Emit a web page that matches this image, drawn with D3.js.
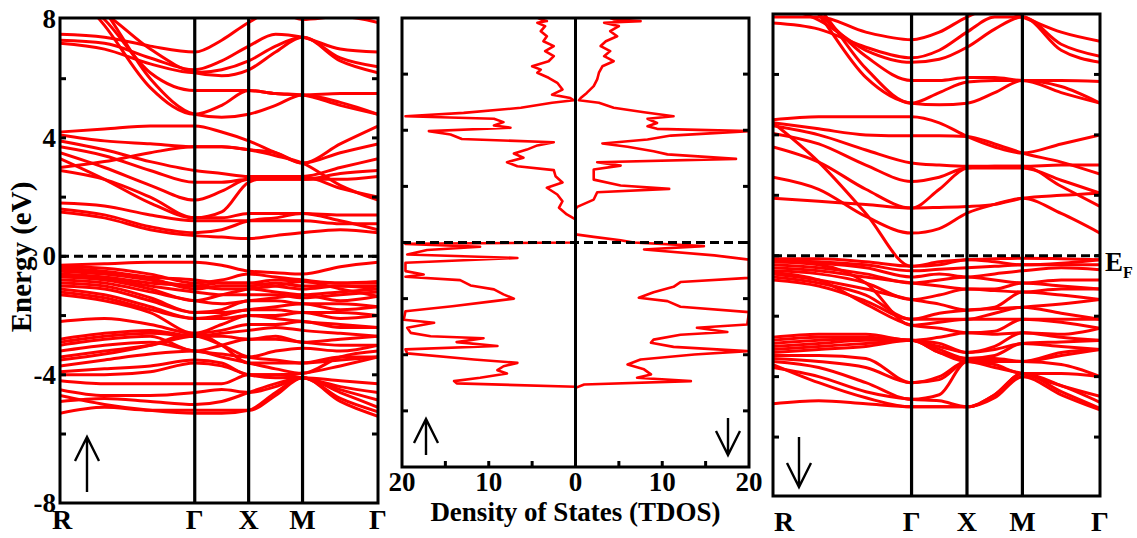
<!DOCTYPE html>
<html>
<head>
<meta charset="utf-8">
<script src="https://cdn.jsdelivr.net/npm/d3@7"></script>
<style>
  body { margin: 0; background: #fff; }
  text { font-family: "Liberation Serif", "Times New Roman", serif; font-weight: bold; fill: #000; }
</style>
</head>
<body>
<svg width="1137" height="538"></svg>
<script>
// k-path: R - Γ - X - M - Γ
const kTicks = [0, 1, 1.4, 1.8, 2.36];
const kLabels = ["R", "Γ", "X", "M", "Γ"];
// energies of each band are read at these k positions
const kSamples = [0, 0.33, 0.67, 1, 1.2, 1.4, 1.6, 1.8, 2.08, 2.36];

// spin up bands (eV)
const upBands = [
  [7.5, 7.4, 7.1, 6.9, 7.3, 7.9, 8.3, 8.0, 8.1, 7.9],
  [7.3, 7.2, 6.7, 6.3, 6.6, 7.1, 7.5, 7.4, 7.0, 6.9],
  [7.2, 7.0, 6.5, 6.2, 6.3, 6.6, 7.1, 7.4, 6.7, 6.4],
  [8.9, 8.2, 7.0, 6.2, 6.1, 6.3, 6.9, 7.4, 6.6, 6.2],
  [9.2, 8.0, 6.2, 5.6, 5.6, 5.6, 5.5, 5.45, 5.5, 5.5],
  [9.5, 7.8, 5.7, 4.8, 5.1, 5.6, 5.5, 5.45, 5.1, 4.8],
  [10.0, 8.3, 6.0, 4.8, 4.7, 4.8, 5.1, 5.45, 5.2, 4.8],
  [4.2, 4.3, 4.4, 4.4, 4.2, 3.9, 3.5, 3.15, 3.8, 4.4],
  [4.1, 3.9, 3.8, 3.7, 3.7, 3.6, 3.5, 3.15, 3.5, 3.8],
  [3.9, 3.6, 3.2, 2.9, 2.8, 2.7, 2.7, 2.7, 3.0, 3.3],
  [3.7, 3.4, 2.9, 2.5, 2.5, 2.6, 2.6, 2.6, 2.8, 2.9],
  [3.5, 3.0, 2.4, 1.9, 2.2, 2.6, 2.6, 2.6, 2.6, 2.7],
  [3.3, 2.6, 1.8, 1.3, 1.5, 2.5, 2.7, 2.7, 2.3, 2.0],
  [3.0, 3.2, 3.5, 3.7, 3.7, 3.6, 3.4, 3.15, 2.4, 1.9],
  [2.9, 2.6, 2.0, 1.3, 1.3, 1.45, 1.45, 1.45, 1.4, 1.4],
  [1.8, 1.7, 1.4, 1.2, 1.2, 1.2, 1.2, 1.2, 1.1, 1.1],
  [1.6, 1.4, 1.0, 0.8, 0.9, 1.2, 1.3, 1.45, 1.2, 0.9],
  [1.5, 1.3, 0.9, 0.7, 0.65, 0.6, 0.7, 0.8, 0.9, 0.8],
  [-0.3, -0.25, -0.2, -0.2, -0.3, -0.5, -0.55, -0.6, -0.35, -0.2],
  [-0.35, -0.4, -0.6, -0.9, -0.8, -0.6, -0.7, -0.8, -0.9, -0.9],
  [-0.4, -0.5, -0.7, -0.8, -0.9, -0.9, -0.8, -0.85, -0.9, -0.85],
  [-0.45, -0.55, -0.75, -1.1, -1.0, -1.0, -0.9, -1.0, -1.0, -1.0],
  [-0.5, -0.6, -0.8, -1.0, -0.9, -0.9, -1.0, -1.1, -1.0, -1.1],
  [-0.6, -0.7, -0.9, -1.0, -1.1, -1.1, -1.2, -1.3, -1.2, -1.1],
  [-0.65, -0.75, -1.0, -1.2, -1.3, -1.3, -1.3, -1.4, -1.3, -1.2],
  [-0.7, -0.8, -1.1, -1.5, -1.3, -1.1, -1.0, -0.85, -1.1, -1.35],
  [-0.8, -0.9, -1.2, -1.5, -1.6, -1.5, -1.4, -1.3, -1.5, -1.35],
  [-0.9, -1.0, -1.4, -1.9, -1.8, -1.5, -1.5, -1.6, -1.6, -1.7],
  [-1.0, -1.1, -1.5, -1.9, -1.9, -1.8, -1.7, -1.6, -1.8, -1.7],
  [-1.1, -1.3, -1.7, -2.1, -2.0, -1.8, -1.8, -1.9, -1.9, -2.0],
  [-1.2, -1.4, -1.8, -2.1, -2.1, -2.0, -2.0, -1.9, -2.1, -2.0],
  [-1.3, -1.5, -1.9, -2.6, -2.3, -2.0, -2.1, -2.2, -2.3, -2.4],
  [-2.2, -2.1, -2.3, -2.6, -2.5, -2.3, -2.3, -2.2, -2.4, -2.4],
  [-2.8, -2.6, -2.5, -2.7, -2.6, -2.5, -2.4, -2.5, -2.6, -2.7],
  [-2.9, -2.7, -2.6, -2.7, -2.7, -2.8, -2.7, -2.9, -2.8, -2.7],
  [-3.0, -2.8, -2.7, -3.2, -3.0, -2.8, -2.8, -2.9, -3.0, -3.0],
  [-3.2, -3.0, -2.9, -3.2, -3.3, -3.4, -3.2, -3.1, -3.2, -3.0],
  [-3.4, -3.2, -3.0, -2.7, -3.0, -3.4, -3.5, -3.6, -3.4, -3.4],
  [-3.5, -3.3, -3.0, -2.6, -3.0, -3.6, -3.6, -3.6, -3.5, -3.4],
  [-3.7, -3.5, -3.3, -3.2, -3.4, -3.6, -3.8, -3.95, -3.4, -3.2],
  [-3.9, -3.8, -3.7, -3.5, -3.6, -4.0, -4.0, -3.95, -3.7, -3.4],
  [-4.0, -4.0, -3.9, -3.6, -3.7, -4.0, -4.1, -4.1, -4.2, -4.3],
  [-4.2, -4.3, -4.3, -4.3, -4.3, -4.0, -4.0, -4.1, -4.4, -4.6],
  [-4.5, -4.7, -4.7, -4.6, -4.5, -4.6, -4.4, -4.1, -4.5, -4.85],
  [-4.9, -4.8, -4.9, -5.0, -4.9, -4.6, -4.3, -4.1, -4.6, -5.1],
  [-5.3, -5.1, -5.2, -5.2, -5.2, -5.2, -4.7, -4.1, -4.8, -5.25],
  [-4.7, -5.0, -5.2, -5.3, -5.3, -5.2, -4.6, -4.1, -4.9, -5.4]
];

// spin down bands (eV)
const downBands = [
  [7.9, 7.9, 7.4, 7.15, 7.4, 7.9, 8.2, 7.9, 7.4, 7.1],
  [7.7, 7.5, 6.9, 6.55, 6.8, 7.4, 7.9, 7.9, 7.0, 6.6],
  [8.3, 7.8, 6.8, 6.4, 6.5, 6.9, 7.5, 7.9, 6.8, 6.4],
  [9.0, 8.0, 6.6, 5.8, 5.8, 5.9, 5.9, 5.8, 5.8, 5.77],
  [9.5, 8.2, 6.2, 5.05, 5.4, 5.75, 5.8, 5.8, 5.4, 5.05],
  [10.0, 8.0, 5.9, 5.05, 5.0, 5.05, 5.4, 5.8, 5.6, 5.05],
  [4.5, 4.6, 4.6, 4.6, 4.4, 3.95, 3.6, 3.4, 3.7, 4.0],
  [4.4, 4.2, 4.0, 3.97, 3.97, 3.95, 3.7, 3.4, 3.1, 2.7],
  [4.3, 4.0, 3.5, 3.07, 3.0, 2.96, 2.96, 2.96, 3.0, 3.0],
  [4.05, 3.7, 3.0, 2.46, 2.6, 2.9, 2.9, 2.9, 2.5, 2.07],
  [3.6, 3.1, 2.2, 1.58, 2.2, 2.9, 2.96, 2.96, 2.3, 1.63],
  [2.6, 2.2, 1.3, 0.75, 0.9, 1.41, 1.7, 1.9, 1.4, 0.75],
  [1.9, 1.8, 1.7, 1.58, 1.6, 1.63, 1.7, 1.9, 2.0, 2.07],
  [4.4, 3.1, 1.4, -0.35, -0.3, -0.13, -0.2, -0.3, -0.25, -0.13],
  [-0.1, -0.1, -0.2, -0.35, -0.2, -0.13, -0.1, -0.08, -0.1, -0.13],
  [-0.15, -0.2, -0.3, -0.5, -0.45, -0.4, -0.35, -0.3, -0.3, -0.3],
  [-0.2, -0.25, -0.4, -0.7, -0.6, -0.7, -0.6, -0.5, -0.4, -0.46],
  [-0.3, -0.4, -0.6, -0.9, -0.8, -0.7, -0.8, -0.9, -0.8, -0.8],
  [-0.4, -0.5, -0.7, -0.9, -1.0, -1.1, -1.1, -0.9, -1.0, -1.1],
  [-0.5, -0.6, -0.9, -1.45, -1.3, -1.1, -1.15, -1.2, -1.1, -1.1],
  [-0.6, -0.8, -1.1, -1.45, -1.6, -1.8, -1.7, -1.2, -1.3, -1.45],
  [-0.7, -0.9, -1.3, -2.1, -1.9, -1.8, -1.75, -1.7, -1.6, -1.45],
  [-0.8, -1.0, -1.5, -2.1, -2.1, -2.1, -1.9, -1.7, -1.9, -2.1],
  [-0.2, -0.3, -0.9, -2.3, -2.2, -2.1, -2.1, -2.1, -2.1, -2.1],
  [-0.55, -0.8, -1.6, -2.3, -2.4, -2.55, -2.5, -2.1, -2.2, -2.4],
  [-2.7, -2.6, -2.6, -2.8, -2.7, -2.55, -2.6, -2.55, -2.6, -2.4],
  [-2.8, -2.7, -2.7, -2.8, -2.9, -3.2, -3.0, -2.55, -2.7, -2.8],
  [-2.9, -2.8, -2.75, -2.8, -3.0, -3.2, -3.1, -2.9, -2.85, -2.8],
  [-3.0, -2.9, -2.8, -2.8, -3.1, -3.4, -3.3, -2.9, -3.0, -3.1],
  [-3.1, -3.0, -2.9, -2.8, -3.2, -3.4, -3.4, -3.5, -3.2, -3.1],
  [-3.2, -3.1, -3.0, -2.8, -3.2, -3.5, -3.5, -3.5, -3.3, -3.1],
  [-3.3, -3.3, -3.4, -4.2, -4.0, -3.5, -3.5, -3.5, -3.6, -4.0],
  [-3.4, -3.5, -3.7, -4.2, -4.1, -3.5, -3.6, -3.9, -3.9, -4.0],
  [-3.5, -3.7, -4.2, -4.75, -4.6, -3.5, -3.7, -3.9, -4.3, -4.65],
  [-3.7, -4.0, -4.5, -4.75, -4.8, -5.0, -4.6, -3.9, -4.3, -4.85],
  [-4.9, -4.8, -4.9, -5.0, -5.0, -5.0, -4.6, -3.9, -4.5, -5.05],
  [-3.6, -4.2, -4.7, -5.0, -5.0, -5.0, -4.7, -4.0, -4.6, -5.1]
];

// total DOS, [energy (eV), states]
const dosUp = [
  [8.0, 4.3], [7.95, 4.0], [7.89, 3.3], [7.83, 4.4], [7.71, 3.5], [7.53, 4.0], [7.35, 3.3],
  [7.17, 3.7], [7.0, 2.5], [6.82, 3.5], [6.64, 2.5], [6.46, 3.1], [6.28, 5.0], [6.16, 4.0],
  [6.05, 4.4], [5.87, 3.1], [5.69, 2.1], [5.45, 1.5], [5.27, 2.7], [5.15, 0.6], [5.07, 0.2],
  [4.98, 2.7], [4.8, 6.3], [4.62, 12.9], [4.5, 19.6], [4.41, 9.4], [4.29, 8.3], [4.17, 9.4],
  [4.09, 7.5], [3.97, 16.9], [3.85, 14.4], [3.69, 13.1], [3.57, 2.5], [3.46, 4.4], [3.31, 5.6],
  [3.17, 7.1], [3.02, 6.0], [2.86, 7.9], [2.72, 6.7], [2.58, 2.5], [2.36, 2.3], [2.14, 1.5],
  [1.95, 3.3], [1.71, 2.1], [1.47, 1.5], [1.24, 1.9], [1.0, 1.0], [0.82, 0], [0.0, 0],
  [-0.05, 19.6], [-0.15, 11.0], [-0.27, 17.1], [-0.43, 19.4], [-0.55, 6.7], [-0.72, 19.6],
  [-1.02, 19.6], [-1.14, 17.5], [-1.22, 19.6], [-1.34, 13.3], [-1.53, 12.1], [-1.67, 9.4],
  [-1.85, 8.3], [-2.0, 7.1], [-2.09, 9.4], [-2.27, 14.2], [-2.45, 19.6], [-2.75, 19.8],
  [-2.86, 16.3], [-3.04, 19.4], [-3.22, 19.0], [-3.34, 16.7], [-3.41, 10.6], [-3.55, 13.7],
  [-3.69, 9.0], [-3.81, 19.6], [-3.95, 19.4], [-4.17, 11.7], [-4.29, 6.7], [-4.41, 8.3],
  [-4.55, 9.0], [-4.67, 7.9], [-4.82, 11.0], [-4.94, 14.0], [-5.02, 13.7], [-5.14, 0], [-8.0, 0]
];
const dosDown = [
  [8.0, 4.0], [7.95, 4.4], [7.89, 7.5], [7.83, 3.3], [7.71, 5.0], [7.53, 4.0], [7.35, 4.8],
  [7.17, 3.5], [7.0, 2.9], [6.82, 4.0], [6.64, 3.3], [6.46, 4.4], [6.28, 3.1], [6.05, 2.7],
  [5.81, 2.5], [5.57, 2.1], [5.33, 1.3], [5.15, 0.6], [5.07, 0.4], [4.98, 2.7], [4.8, 4.4],
  [4.64, 7.9], [4.5, 11.3], [4.41, 8.3], [4.26, 9.4], [4.14, 8.3], [4.05, 9.4], [3.97, 20],
  [3.81, 11.0], [3.67, 8.3], [3.53, 3.1], [3.41, 6.0], [3.25, 9.0], [3.14, 10.6], [2.98, 18.5],
  [2.86, 2.5], [2.74, 5.2], [2.6, 2.1], [2.24, 2.1], [2.03, 5.2], [1.91, 10.8], [1.79, 2.5],
  [1.53, 2.1], [1.27, 0.2], [1.18, 0], [0.29, 0], [0.2, 2.1], [0.08, 5.2], [0.0, 6.7],
  [-0.13, 14.8], [-0.25, 7.9], [-0.46, 16.0], [-0.61, 20], [-1.26, 20], [-1.41, 12.1],
  [-1.58, 11.3], [-1.77, 9.0], [-1.97, 7.3], [-2.09, 10.6], [-2.29, 12.1], [-2.48, 20],
  [-2.92, 19.8], [-3.04, 14.0], [-3.19, 17.5], [-3.29, 12.1], [-3.46, 9.0], [-3.57, 8.7],
  [-3.72, 11.3], [-3.87, 19.8], [-3.99, 13.7], [-4.17, 7.5], [-4.35, 6.0], [-4.52, 7.9],
  [-4.7, 8.7], [-4.82, 7.1], [-4.94, 13.3], [-5.06, 1.0], [-5.18, 0], [-8.0, 0]
];

const energyLabels = [-8, -4, 0, 4, 8];
const energyMinor = [-6, -4, -2, 0, 2, 4, 6];
const dosLabels = [-20, -10, 0, 10, 20];
const dosMinor = [-15, -10, -5, 5, 10, 15];

const svg = d3.select("svg");
const red = "#ff0000";
const serif = "Liberation Serif, Times New Roman, serif";

function frame(g, l, r, t, b) {
  g.append("rect").attr("x", l).attr("y", t).attr("width", r - l).attr("height", b - t)
    .attr("fill", "none").attr("stroke", "#000").attr("stroke-width", 3);
}

function yTicks(g, y, l, r) {
  energyMinor.forEach(e => {
    g.append("line").attr("x1", l).attr("x2", l + 6).attr("y1", y(e)).attr("y2", y(e))
      .attr("stroke", "#000").attr("stroke-width", 3);
    g.append("line").attr("x1", r - 6).attr("x2", r).attr("y1", y(e)).attr("y2", y(e))
      .attr("stroke", "#000").attr("stroke-width", 3);
  });
}

function bandPanel(id, bands, left, right, top, bottom, eRange, labelY, rShift) {
  const x = d3.scaleLinear().domain([0, 2.36]).range([left, right]);
  const y = d3.scaleLinear().domain(eRange).range([bottom, top]);
  const g = svg.append("g");
  svg.append("clipPath").attr("id", id).append("rect")
    .attr("x", left).attr("y", top).attr("width", right - left).attr("height", bottom - top);

  const line = d3.line().x((d, i) => x(kSamples[i])).y(d => y(d)).curve(d3.curveMonotoneX);
  g.append("g").attr("clip-path", `url(#${id})`)
    .selectAll("path").data(bands).join("path")
    .attr("d", line).attr("fill", "none").attr("stroke", red).attr("stroke-width", 3);

  g.selectAll(".kline").data(kTicks.slice(1, -1)).join("line")
    .attr("x1", d => x(d)).attr("x2", d => x(d)).attr("y1", top).attr("y2", bottom)
    .attr("stroke", "#000").attr("stroke-width", 3.2);

  g.append("line").attr("x1", left).attr("x2", right).attr("y1", y(0)).attr("y2", y(0))
    .attr("stroke", "#000").attr("stroke-width", 3).attr("stroke-dasharray", "9,5");

  frame(g, left, right, top, bottom);
  yTicks(g, y, left, right);

  g.selectAll(".klab").data(kTicks).join("text")
    .attr("x", (d, i) => i === 0 ? x(d) + rShift : x(d))
    .attr("y", labelY).attr("text-anchor", "middle")
    .attr("font-family", serif).attr("font-size", 28)
    .text((d, i) => kLabels[i]);
  return { x, y, g };
}

function arrow(g, x, yTail, yHead) {
  const dir = yHead < yTail ? 1 : -1;
  g.append("path")
    .attr("d", `M${x},${yTail}L${x},${yHead}M${x - 12},${yHead + dir * 24}L${x},${yHead}L${x + 12},${yHead + dir * 24}`)
    .attr("fill", "none").attr("stroke", "#000").attr("stroke-width", 2.4);
}

// ---- spin up bands ----
const p1 = bandPanel("c1", upBands, 60, 378, 18, 503, [-8.33, 8.05], 529, 2);
p1.g.selectAll(".elab").data(energyLabels).join("text")
  .attr("x", 56).attr("y", d => d === -8 ? 512 : p1.y(d) + 9)
  .attr("text-anchor", "end").attr("font-family", serif).attr("font-size", 27)
  .text(d => d);
svg.append("text").attr("transform", "translate(31,257) rotate(-90)")
  .attr("text-anchor", "middle").attr("font-family", serif).attr("font-size", 29)
  .text("Energy (eV)");
arrow(p1.g, 87, 492, 437);

// ---- DOS ----
const dx = d3.scaleLinear().domain([-20, 20]).range([402, 749]);
const dy = d3.scaleLinear().domain([-8, 8]).range([467, 18]);
const g2 = svg.append("g");
svg.append("clipPath").attr("id", "c2").append("rect")
  .attr("x", 402).attr("y", 18).attr("width", 347).attr("height", 449);
const dosLine = sign => d3.line().x(d => dx(sign * d[1])).y(d => dy(d[0]));
const dg = g2.append("g").attr("clip-path", "url(#c2)");
dg.append("path").datum(dosUp).attr("d", dosLine(-1))
  .attr("fill", "none").attr("stroke", red).attr("stroke-width", 2.6).attr("stroke-linejoin", "round");
dg.append("path").datum(dosDown).attr("d", dosLine(1))
  .attr("fill", "none").attr("stroke", red).attr("stroke-width", 2.6).attr("stroke-linejoin", "round");
g2.append("line").attr("x1", dx(0)).attr("x2", dx(0)).attr("y1", 18).attr("y2", 467)
  .attr("stroke", "#000").attr("stroke-width", 3);
g2.append("line").attr("x1", 402).attr("x2", 749).attr("y1", dy(0)).attr("y2", dy(0))
  .attr("stroke", "#000").attr("stroke-width", 3).attr("stroke-dasharray", "9,5");
frame(g2, 402, 749, 18, 467);
yTicks(g2, dy, 402, 749);
dosMinor.forEach(v => {
  g2.append("line").attr("x1", dx(v)).attr("x2", dx(v)).attr("y1", 467).attr("y2", 461)
    .attr("stroke", "#000").attr("stroke-width", 3);
});
g2.selectAll(".dlab").data(dosLabels).join("text")
  .attr("x", d => dx(d)).attr("y", 491).attr("text-anchor", "middle")
  .attr("font-family", serif).attr("font-size", 27)
  .text(d => Math.abs(d));
g2.append("text").attr("x", dx(0)).attr("y", 521).attr("text-anchor", "middle")
  .attr("font-family", serif).attr("font-size", 27).text("Density of States (TDOS)");
arrow(g2, 426, 455, 419);
arrow(g2, 728, 418, 455);

// ---- spin down bands ----
const p3 = bandPanel("c3", downBands, 773, 1100, 14, 496, [-7.95, 8.0], 531, 11);
arrow(p3.g, 799, 437, 487);
const ef = svg.append("text").attr("x", 1105).attr("y", 271)
  .attr("font-family", serif).attr("font-size", 27);
ef.append("tspan").text("E");
ef.append("tspan").attr("dy", 7).attr("font-size", 16).text("F");
</script>
</body>
</html>
